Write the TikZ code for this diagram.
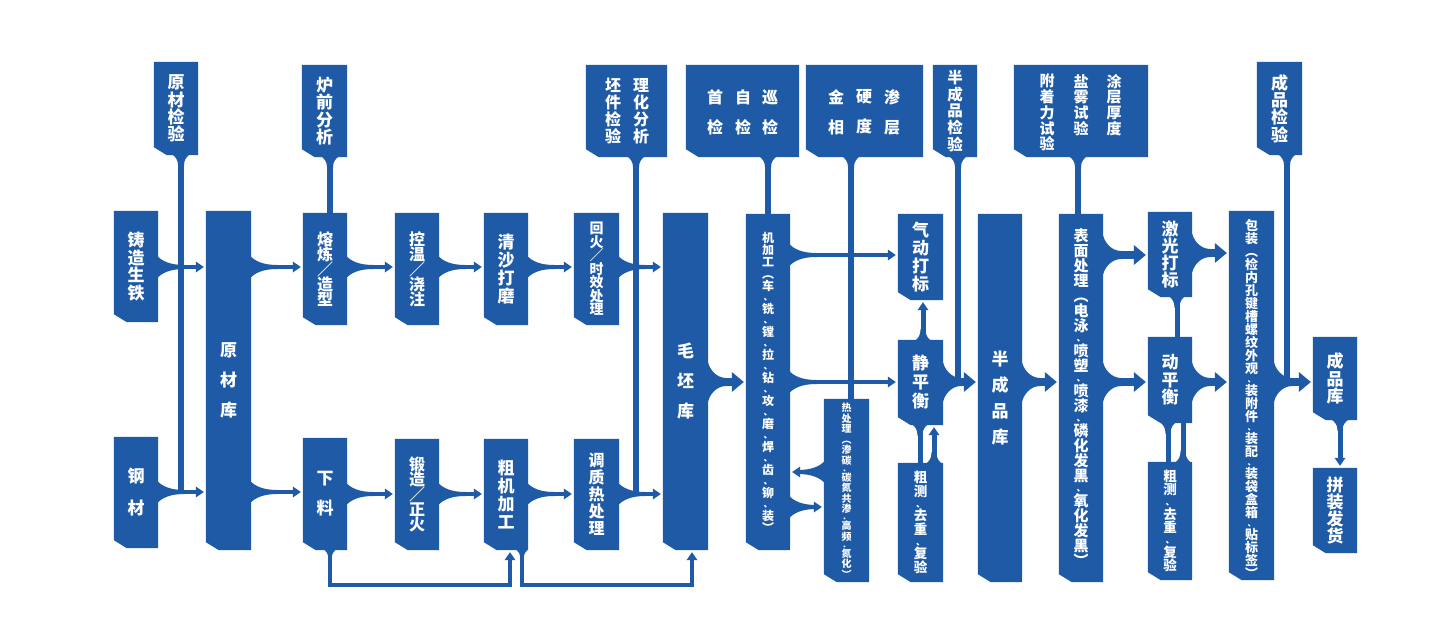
\documentclass[tikz,border=0pt]{standalone}
\usepackage{fontspec}
\usepackage{graphicx}
\newfontfamily\cjk{Noto Sans CJK SC}
\usetikzlibrary{arrows.meta,calc,fit}
\definecolor{mb}{RGB}{30,90,165}
\pgfdeclarelayer{bg}
\pgfsetlayers{bg,main}
\lineskiplimit=-1000pt
\newcommand\vt[2]{\cjk\bfseries\fontsize{#1}{#2}\selectfont\lineskiplimit=-1000pt\relax}
\def\cmsk{0pt}\def\cmskb{0pt}\def\cmr{0pt}\def\cmf{}
\newcommand\cm{\\[\cmsk]\raisebox{\cmr}{\cmf 、}\\[\cmskb]}
\newcommand\slh{／}

% flare: point, angle, half height at box, length, half width of shaft, c1 x-fraction
\newcommand\flare[6]{%
 \begin{pgfonlayer}{bg}
 \begin{scope}[shift={(#1)},rotate=#2]
 \fill[mb] (-1pt,#3pt) .. controls ({#6*#4pt},{#5pt+0.448*(#3pt-#5pt)}) and ({0.448*#4pt},#5pt) .. (#4pt,#5pt)
   -- (#4pt+1pt,#5pt) -- (#4pt+1pt,-#5pt) -- (#4pt,-#5pt) .. controls ({0.448*#4pt},-#5pt) and ({#6*#4pt},{-#5pt-0.448*(#3pt-#5pt)}) .. (-1pt,-#3pt) -- cycle;
 \end{scope}
 \end{pgfonlayer}}

\tikzset{
 boxn/.style={inner sep=0pt, draw=none},
 txt/.style={inner sep=0pt, text=white, align=center},
 sh/.style={draw=mb, line width=4pt},
 vc/.style={draw=mb, line width=5pt},
 stem/.style={draw=mb, line width=6pt},
 big/.style={draw=mb, line width=8pt},
 lp/.style={draw=mb, line width=3.5pt},
 sa/.style={-{Triangle[length=8pt,width=11pt,line width=0pt]}, shorten >=2pt},
 ba/.style={-{Triangle[length=12pt,width=20pt,line width=0pt]}, shorten >=2pt},
}

% box: name, x1,y1,x2,y2 (px, y down)
\newcommand\bxe[5]{%
 \node[boxn, fit={(#2,#3) (#4,#5)}] (#1) {};
 \begin{pgfonlayer}{bg}
 \fill[mb] (#1.north west) -- (#1.north east) -- (#1.south east) -- ([xshift=13pt]#1.south west) -- ([yshift=8pt]#1.south west) -- cycle;
 \end{pgfonlayer}}
\newcommand\bx[7]{%
 \bxe{#1}{#2}{#3}{#4}{#5}
 \node[txt, #6] (#1t) at (#1.center) {#7};}

\newcommand\smallarr[3]{%
 \flare{#1.east |- 0,#3}{0}{11}{26}{2}{0.15}
 \draw[sh,sa] (#1.east |- 0,#3) -- (#2.west |- 0,#3);}
\newcommand\bigarr[3]{%
 \flare{#1.east |- 0,#3}{0}{24}{18}{4}{0}
 \draw[big,ba] (#1.east |- 0,#3) -- (#2.west |- 0,#3);}
\newcommand\topstem[3]{%
 \flare{#1.south -| #2,0}{-90}{9}{10}{3}{0.15}
 \draw[stem] (#1.south -| #2,0) -- (#3);}

\begin{document}
\begin{tikzpicture}[x=1pt,y=-1pt]
\begin{pgfonlayer}{bg}
\fill[white] (0,0) rectangle (1440,631);
\end{pgfonlayer}
\useasboundingbox (0,0) rectangle (1440,631);

% ---------- boxes ----------
\bx{yzjc}{154}{62}{198}{155}{font=\vt{17}{17.3}}{原\\材\\检\\验}
\bx{zzst}{114}{211}{158}{322}{font=\vt{17}{17.7}}{铸\\造\\生\\铁}
\bx{gc}{114}{437}{158}{548}{font=\vt{17}{32}}{钢\\材}
\bx{ycl}{206}{211}{251}{550}{font=\vt{17}{30}}{原\\材\\库}
\bx{lq}{302}{65}{347}{157}{font=\vt{17}{17.3}}{炉\\前\\分\\析}
\bx{rl}{303}{213}{347}{325}{font=\vt{16}{15}}{熔\\炼\\\slh\\造\\型}
\bx{xl}{303}{438}{347}{550}{font=\vt{17}{30}}{下\\料}
\bx{kw}{395}{213}{439}{325}{font=\vt{16}{15}}{控\\温\\\slh\\浇\\注}
\bx{dz}{395}{439}{439}{550}{font=\vt{16}{15}}{锻\\造\\\slh\\正\\火}
\bx{qs}{484}{213}{528}{325}{font=\vt{17}{17.7}}{清\\沙\\打\\磨}
\bx{cj}{484}{439}{528}{550}{font=\vt{17}{18}}{粗\\机\\加\\工}
\bx{hh}{574}{213}{619}{325}{font=\vt{14}{13.5}}{回\\火\\\slh\\时\\效\\处\\理}
\bx{tz}{574}{439}{619}{550}{font=\vt{16}{17}}{调\\质\\热\\处\\理}
\bxe{pj}{586}{65}{667}{157}
\node[txt,font=\vt{16}{17}] (pjt1) at (613,111) {坯\\件\\检\\验};
\node[txt,font=\vt{16}{17}] (pjt2) at (641,111) {理\\化\\分\\析};
\bx{mp}{663}{213}{708}{550}{font=\vt{17}{30}}{毛\\坯\\库}
\bxe{sj}{686}{65}{799}{157}
\node[txt,font=\vt{16}{30}] (sjt1) at (715,112) {首\\检};
\node[txt,font=\vt{16}{30}] (sjt2) at (743,112) {自\\检};
\node[txt,font=\vt{16}{30}] (sjt3) at (770,112) {巡\\检};
\bxe{jx}{806}{65}{923}{157}
\node[txt,font=\vt{16}{30}] (jxt1) at (836,112) {金\\相};
\node[txt,font=\vt{16}{30}] (jxt2) at (864,112) {硬\\度};
\node[txt,font=\vt{16}{30}] (jxt3) at (892,112) {渗\\层};
\bx{bcj}{933}{65}{977}{157}{font=\vt{15.5}{16.75}}{半\\成\\品\\检\\验}
\bx{jjg}{746}{214}{790}{550}{font={\vt{12}{12}\def\cmsk{-1.5pt}\def\cmskb{0.5pt}\def\cmr{0pt}\def\cmf{\fontsize{9}{9}\selectfont}}}{机\\加\\工\\︵\\车\cm 铣\cm 镗\cm 拉\cm 钻\cm 攻\cm 磨\cm 焊\cm 齿\cm 铆\cm 装\\︶}
\bx{rcl}{824}{399}{869}{582}{font={\vt{10}{10.5}\def\cmsk{-3.1pt}\def\cmskb{-0.9pt}\def\cmr{0pt}\def\cmf{\fontsize{7}{7}\selectfont}}}{热\\处\\理\\︵\\渗\\碳\cm 碳\\氮\\共\\渗\cm 高\\频\cm 氮\\化\\︶}
\bx{qd}{898}{214}{943}{300}{font=\vt{17}{17.7}}{气\\动\\打\\标}
\bx{jph}{898}{340}{943}{425}{font=\vt{17}{19}}{静\\平\\衡}
\bx{cc1}{898}{463}{943}{582}{font={\vt{13.5}{13.5}\def\cmsk{-2.5pt}\def\cmskb{0pt}\def\cmr{0pt}\def\cmf{\fontsize{9}{9}\selectfont}}}{粗\\测\cm 去\\重\cm 复\\验}
\bx{bck}{978}{214}{1022}{582}{font=\vt{17}{26}}{半\\成\\品\\库}
\bxe{tc}{1014}{65}{1148}{157}
\node[txt,font=\vt{15}{15.7},anchor=north] (tct1) at (1047,74) {附\\着\\力\\试\\验};
\node[txt,font=\vt{15}{15.7},anchor=north] (tct2) at (1081,74) {盐\\雾\\试\\验};
\node[txt,font=\vt{15}{15.7},anchor=north] (tct3) at (1114,74) {涂\\层\\厚\\度};
\bx{bm}{1059}{214}{1103}{582}{font={\vt{15}{15}\def\cmsk{-5pt}\def\cmskb{0pt}\def\cmr{0pt}\def\cmf{\fontsize{9}{9}\selectfont}}}{表\\面\\处\\理\\︵\\电\\泳\cm 喷\\塑\cm 喷\\漆\cm 磷\\化\\发\\黑\cm 氧\\化\\发\\黑\\︶}
\bx{jg}{1148}{212}{1192}{297}{font=\vt{17}{16.7}}{激\\光\\打\\标}
\bx{dph}{1148}{337}{1192}{423}{font=\vt{17}{17.5}}{动\\平\\衡}
\bx{cc2}{1148}{462}{1192}{580}{font={\vt{13.5}{13.5}\def\cmsk{-2.5pt}\def\cmskb{0pt}\def\cmr{0pt}\def\cmf{\fontsize{9}{9}\selectfont}}}{粗\\测\cm 去\\重\cm 复\\验}
\bx{bz}{1229}{211}{1274}{580}{font={\vt{13}{13}\def\cmsk{-4pt}\def\cmskb{0pt}\def\cmr{0pt}\def\cmf{\fontsize{8}{8}\selectfont}},yshift=-3pt}{包\\装\\︵\\检\\内\\孔\\键\\槽\\螺\\纹\\外\\观\cm 装\\附\\件\cm 装\\配\cm 装\\袋\\盒\\箱\cm 贴\\标\\签\\︶}
\bx{cpj}{1257}{62}{1302}{155}{font=\vt{17}{17.3}}{成\\品\\检\\验}
\bx{cpk}{1313}{337}{1357}{420}{font=\vt{17}{17.5}}{成\\品\\库}
\bx{pz}{1313}{468}{1357}{553}{font=\vt{17}{16.7}}{拼\\装\\发\\货}

% ---------- junction points ----------
\coordinate (j1) at (181,492);
\coordinate (j2) at (636,494);
\coordinate (j3) at (958,382);
\coordinate (j4) at (1287,382);

% ---------- inspection stems ----------
\topstem{yzjc}{181}{j1}
\topstem{lq}{330}{rl.north -| 330,0}
\topstem{pj}{636}{j2}
\topstem{sj}{768}{jjg.north -| 768,0}
\topstem{jx}{851}{rcl.north -| 851,0}
\topstem{bcj}{958}{j3}
\topstem{tc}{1078}{bm.north -| 1078,0}
\topstem{cpj}{1287}{j4}

% ---------- horizontal flow ----------
\smallarr{zzst}{ycl}{267}
\smallarr{gc}{ycl}{492}
\smallarr{ycl}{rl}{267}
\smallarr{ycl}{xl}{492}
\smallarr{rl}{kw}{267}
\smallarr{xl}{dz}{494}
\smallarr{kw}{qs}{267}
\smallarr{dz}{cj}{494}
\smallarr{qs}{hh}{267}
\smallarr{cj}{tz}{494}
\smallarr{hh}{mp}{267}
\smallarr{tz}{mp}{494}
\bigarr{mp}{jjg}{382}
\smallarr{jjg}{qd}{255}
\smallarr{jjg}{jph}{382}
\smallarr{jjg}{rcl}{507}
\flare{rcl.west |- 0,472}{180}{11}{26}{2}{0.15}
\draw[sh,sa] (rcl.west |- 0,472) -- (jjg.east |- 0,472);
\bigarr{jph}{bck}{382}
\bigarr{bck}{bm}{382}
\bigarr{bm}{jg}{255}
\bigarr{bm}{dph}{382}
\bigarr{jg}{bz}{253}
\bigarr{dph}{bz}{382}
\bigarr{bz}{cpk}{382}

% ---------- vertical links ----------
\flare{jph.north -| 923,0}{90}{8}{10}{2.5}{0.15}
\draw[vc,sa] (jph.north -| 923,0) -- (qd.south -| 923,0);
\flare{jph.south -| 920,0}{-90}{8}{10}{2.5}{0.15}
\draw[vc] (jph.south -| 920,0) -- (cc1.north -| 920,0);
\flare{cc1.north -| 934,0}{90}{8}{10}{2.5}{0.15}
\draw[vc,sa] (cc1.north -| 934,0) -- (jph.south -| 934,0);
\flare{jg.south -| 1177,0}{-90}{8}{10}{2.5}{0.15}
\draw[vc] (jg.south -| 1177,0) -- (dph.north -| 1177,0);
\flare{dph.south -| 1168,0}{-90}{8}{10}{2.5}{0.15}
\draw[vc] (dph.south -| 1168,0) -- (cc2.north -| 1168,0);
\flare{cc2.north -| 1183,0}{90}{8}{10}{2.5}{0.15}
\draw[vc] (cc2.north -| 1183,0) -- (dph.south -| 1183,0);
\flare{cpk.south -| 1340,0}{-90}{9}{10}{2.5}{0.15}
\draw[vc,sa] (cpk.south -| 1340,0) -- (pz.north -| 1340,0);

% ---------- bottom loops ----------
\flare{xl.south -| 330,0}{-90}{6}{8}{1.75}{0.15}
\draw[lp,sa] (xl.south -| 330,0) -- ++(0,35) -| (cj.south -| 510,0);
\flare{cj.south -| 522,0}{-90}{6}{8}{1.75}{0.15}
\draw[lp,sa] (cj.south -| 522,0) -- ++(0,35) -| (mp.south -| 692,0);
\end{tikzpicture}
\end{document}
